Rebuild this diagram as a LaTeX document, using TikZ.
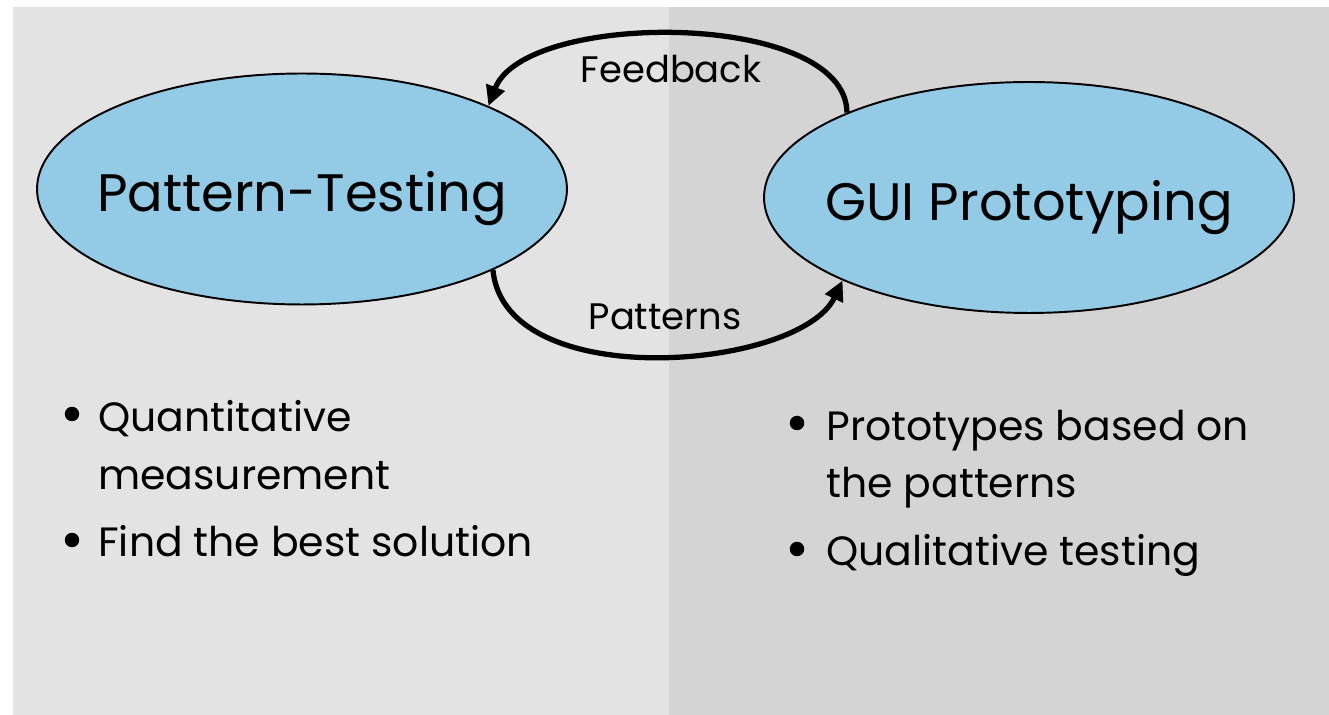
\documentclass[tikz,border=0pt]{standalone}
\usepackage{fontspec}
\setmainfont{Poppins}
\usepackage{tikz}
\usetikzlibrary{arrows.meta, shapes.geometric}
\definecolor{panelleft}{RGB}{227,227,227}
\definecolor{panelright}{RGB}{212,212,212}
\definecolor{bubble}{RGB}{147,202,230}
\tikzstyle{phase}=[ellipse, draw=black, line width=1.1pt, fill=bubble, minimum width=10.6cm, minimum height=4.62cm, inner ysep=0pt, inner xsep=-0.4cm, font=\fontsize{30}{34}\selectfont, text height=0.92cm, text depth=0pt]
\tikzstyle{flow}=[draw=black, line width=3pt, -{Triangle[length=0.4cm, width=0.38cm]}]
\tikzstyle{flowlabel}=[anchor=base, inner sep=0pt, font=\fontsize{21}{25}\selectfont]
\tikzstyle{dot}=[circle, fill, inner sep=0pt, minimum size=0.29cm]
\tikzstyle{item}=[anchor=base west, inner sep=0pt, font=\fontsize{23.3}{28}\selectfont]

\begin{document}
\begin{tikzpicture}[x=0.02cm, y=-0.02cm]
		   \useasboundingbox (0,0) rectangle (1329,715);
		   \fill [panelleft] (13,7) rectangle (669,715);
		   \fill [panelright] (669,7) rectangle (1329,715);
		   \begin{scope}
			   \node (pt) at (302, 189)[phase] {Pattern-Testing};
			   \node (gui) at (1029, 197.5)[phase] {GUI Prototyping};

			   \node (fb) at (671, 83)[flowlabel] {Feedback};
			   \node (pat) at (665, 330)[flowlabel] {Patterns};

			   \node (d1) at (72, 414)[dot] {};
			   \node (l1) at (98, 432)[item] {Quantitative};
			   \node (l2) at (98, 490)[item] {measurement};
			   \node (d2) at (72, 540)[dot] {};
			   \node (l3) at (98, 557)[item] {Find the best solution};

			   \node (d3) at (797, 423)[dot] {};
			   \node (r1) at (826, 441)[item] {Prototypes based on};
			   \node (r2) at (826, 498)[item] {the patterns};
			   \node (d4) at (797, 549)[dot] {};
			   \node (r3) at (826, 566)[item] {Qualitative testing};
		   \end{scope}
		   \begin{scope}
			   \path [flow] (gui.155) .. controls (846, 10) and (525, 10) .. (pt.24.4);
			   \path [flow] (pt.-23.5) .. controls (505, 395) and (800, 370) .. (gui.204.7);
		   \end{scope}
	   \end{tikzpicture}
\end{document}
